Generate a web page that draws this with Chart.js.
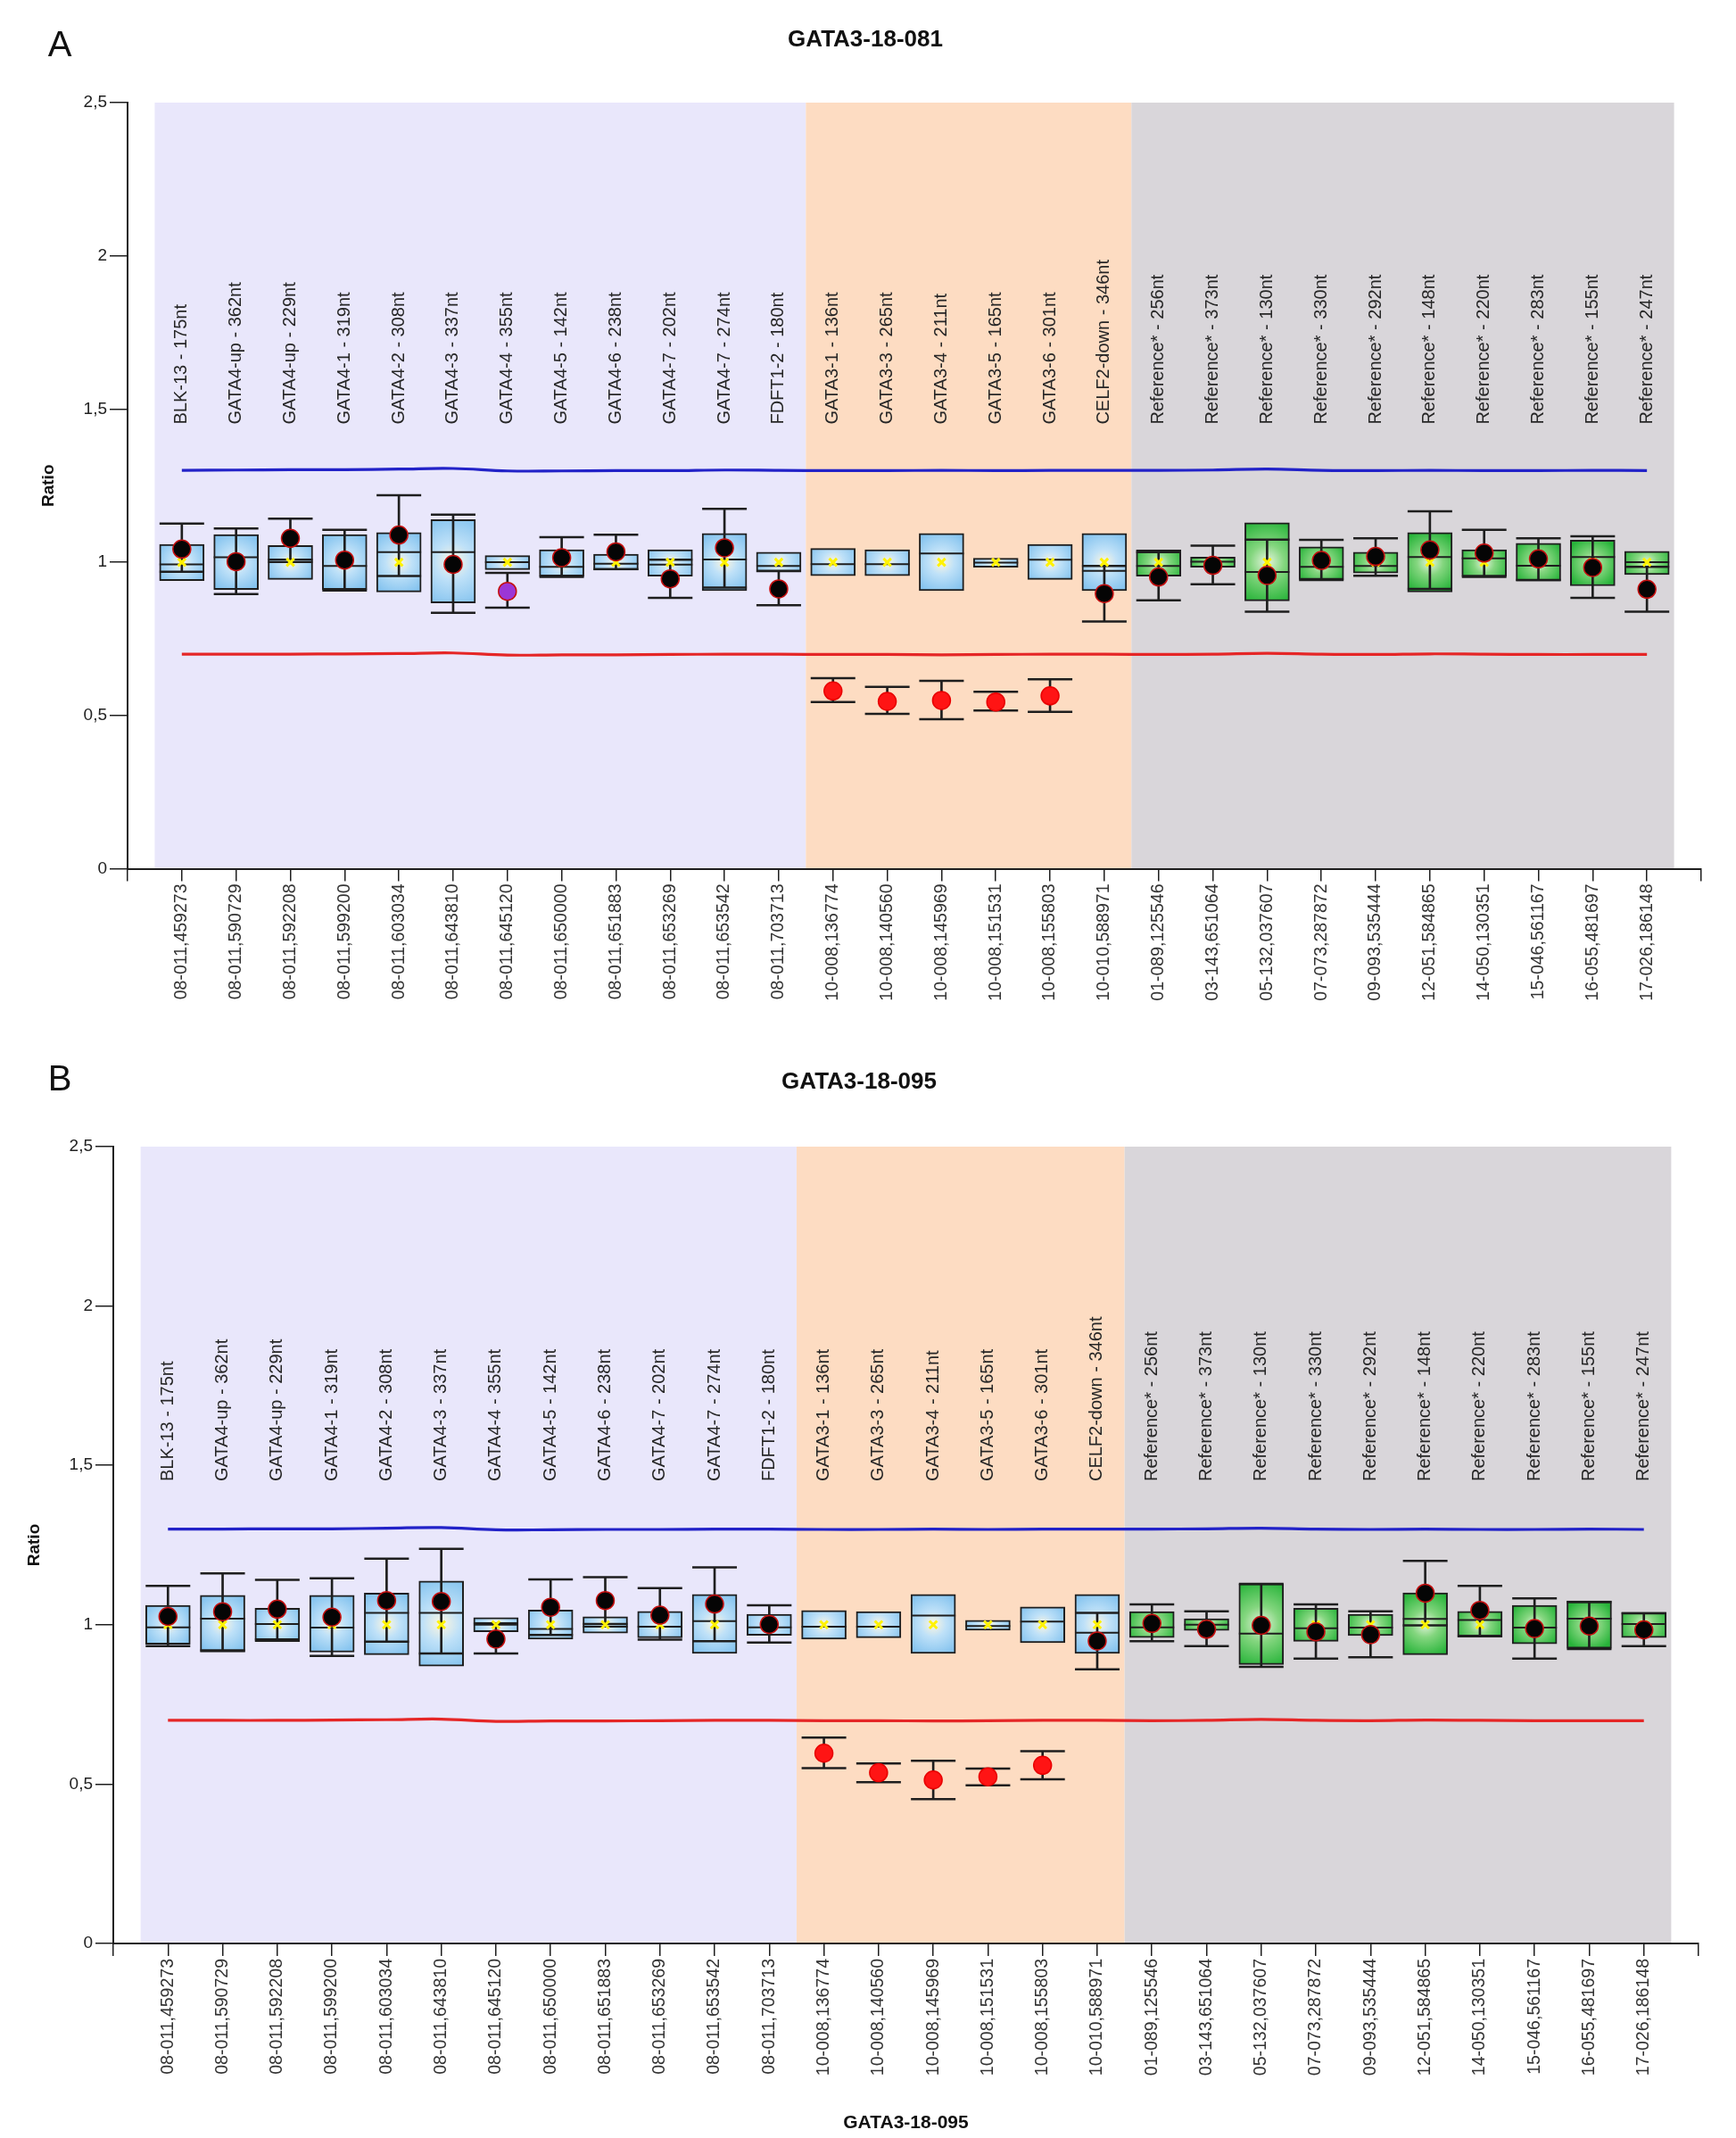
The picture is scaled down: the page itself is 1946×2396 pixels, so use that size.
<!DOCTYPE html>
<html>
<head>
<meta charset="utf-8">
<title>GATA3-18-081 / GATA3-18-095</title>
<script src="https://cdn.jsdelivr.net/npm/chart.js@4.4.0/dist/chart.umd.min.js"></script>
<style>
  html, body { margin: 0; padding: 0; background: #fff; }
  .panel { position: absolute; left: 0; width: 1946px; }
  #panelA { top: 0; height: 1140px; }
  #panelB { top: 1140px; height: 1256px; }
</style>
</head>
<body>
<div class="panel" id="panelA"><canvas id="chartA" width="1946" height="1140"></canvas></div>
<div class="panel" id="panelB"><canvas id="chartB" width="1946" height="1256"></canvas></div>
<script>
// ---- categories ----
const probeLabels = [
  'BLK-13 - 175nt', 'GATA4-up - 362nt', 'GATA4-up - 229nt', 'GATA4-1 - 319nt', 'GATA4-2 - 308nt',
  'GATA4-3 - 337nt', 'GATA4-4 - 355nt', 'GATA4-5 - 142nt', 'GATA4-6 - 238nt', 'GATA4-7 - 202nt',
  'GATA4-7 - 274nt', 'FDFT1-2 - 180nt',
  'GATA3-1 - 136nt', 'GATA3-3 - 265nt', 'GATA3-4 - 211nt', 'GATA3-5 - 165nt', 'GATA3-6 - 301nt',
  'CELF2-down - 346nt',
  'Reference* - 256nt', 'Reference* - 373nt', 'Reference* - 130nt', 'Reference* - 330nt',
  'Reference* - 292nt', 'Reference* - 148nt', 'Reference* - 220nt', 'Reference* - 283nt',
  'Reference* - 155nt', 'Reference* - 247nt'
];
const positionLabels = [
  '08-011,459273', '08-011,590729', '08-011,592208', '08-011,599200', '08-011,603034',
  '08-011,643810', '08-011,645120', '08-011,650000', '08-011,651883', '08-011,653269',
  '08-011,653542', '08-011,703713',
  '10-008,136774', '10-008,140560', '10-008,145969', '10-008,151531', '10-008,155803',
  '10-010,588971',
  '01-089,125546', '03-143,651064', '05-132,037607', '07-073,287872', '09-093,535444',
  '12-051,584865', '14-050,130351', '15-046,561167', '16-055,481697', '17-026,186148'
];
// probe groups: test region, target (GATA3) region, reference probes
const groupStart = [0, 12, 18];
const groupEnd = [11, 17, 27];

const yTickValues = [0, 0.5, 1, 1.5, 2, 2.5];
const yTickLabels = ['0', '0,5', '1', '1,5', '2', '2,5'];

// ---- panel A: GATA3-18-081 ----
const boxLoA  = [0.940,0.911,0.944,0.911,0.903,0.867,0.976,0.955,0.974,0.955,0.907,0.968, 0.956,0.956,0.907,0.984,0.944,0.907, 0.955,0.984,0.874,0.944,0.965,0.903,0.954,0.939,0.923,0.960];
const boxHiA  = [1.058,1.090,1.055,1.090,1.097,1.139,1.022,1.041,1.026,1.041,1.094,1.033, 1.045,1.041,1.094,1.013,1.058,1.094, 1.040,1.017,1.129,1.050,1.033,1.097,1.041,1.062,1.072,1.036];
const medianA = [0.993,1.016,1.000,0.988,1.033,1.033,1.000,0.985,0.995,0.992,1.009,0.988, 0.994,0.994,1.029,0.999,1.008,0.972, 0.988,1.002,0.968,0.985,0.988,1.017,1.013,0.989,1.017,1.000];
const meanA   = [1,1,1,1,1,1,1,1,1,1,1,1, 1,1,1,1,1,1, 1,1,1,1,1,1,1,1,1,1];
const sampleA = [1.043,1.002,1.078,1.007,1.089,0.993,0.905,1.015,1.034,0.946,1.047,0.913, 0.580,0.546,0.549,0.544,0.564,0.898, 0.952,0.990,0.957,1.006,1.019,1.040,1.030,1.011,0.983,0.912];
const errLoA  = [0.969,0.896,1.008,0.908,0.955,0.835,0.852,0.952,0.978,0.884,0.917,0.860, 0.544,0.505,0.488,0.516,0.512,0.807, 0.876,0.928,0.839,0.942,0.956,0.913,0.952,0.942,0.884,0.839];
const errHiA  = [1.126,1.110,1.142,1.106,1.219,1.155,0.965,1.082,1.090,1.008,1.174,0.972, 0.622,0.593,0.613,0.577,0.618,0.988, 1.033,1.054,1.074,1.073,1.078,1.166,1.106,1.078,1.085,0.985];
const upperA  = [1.300,1.301,1.302,1.302,1.304,1.306,1.298,1.298,1.299,1.299,1.301,1.300, 1.299,1.299,1.300,1.299,1.300,1.300, 1.300,1.301,1.304,1.300,1.299,1.300,1.299,1.299,1.300,1.299];
const lowerA  = [0.700,0.700,0.700,0.701,0.702,0.704,0.697,0.698,0.698,0.699,0.700,0.700, 0.699,0.699,0.698,0.699,0.700,0.700, 0.699,0.700,0.703,0.700,0.699,0.701,0.700,0.699,0.699,0.699];
const flaggedA = [6];

// ---- panel B: GATA3-18-095 ----
const boxLoB  = [0.939,0.914,0.947,0.914,0.906,0.870,0.978,0.955,0.974,0.959,0.910,0.967, 0.955,0.959,0.910,0.983,0.944,0.910, 0.960,0.982,0.875,0.948,0.966,0.906,0.961,0.940,0.926,0.960];
const boxHiB  = [1.061,1.092,1.052,1.092,1.099,1.137,1.022,1.046,1.025,1.042,1.095,1.033, 1.045,1.041,1.095,1.014,1.056,1.095, 1.041,1.019,1.129,1.052,1.033,1.100,1.042,1.061,1.075,1.039];
const medianB = [0.992,1.019,1.002,0.991,1.037,1.037,1.005,0.987,0.994,0.994,1.011,0.992, 0.994,0.994,1.029,0.996,1.010,0.975, 0.992,1.000,0.972,0.989,0.991,1.018,1.015,0.991,1.019,1.002];
const meanB   = [1,1,1,1,1,1,1,1,1,1,1,1, 1,1,1,1,1,1, 1,1,1,1,1,1,1,1,1,1];
const sampleB = [1.026,1.041,1.049,1.024,1.076,1.073,0.955,1.055,1.076,1.030,1.065,1.001, 0.597,0.536,0.513,0.523,0.559,0.949, 1.004,0.986,0.998,0.978,0.969,1.099,1.045,0.988,0.996,0.984];
const errLoB  = [0.933,0.920,0.954,0.902,0.947,0.910,0.910,0.968,1.002,0.953,0.948,0.944, 0.550,0.506,0.453,0.496,0.515,0.860, 0.948,0.933,0.868,0.894,0.898,0.998,0.965,0.894,0.924,0.933];
const errHiB  = [1.122,1.161,1.141,1.146,1.207,1.238,1.001,1.142,1.149,1.115,1.180,1.061, 0.646,0.565,0.573,0.549,0.603,1.037, 1.064,1.042,1.128,1.064,1.042,1.200,1.122,1.083,1.071,1.036];
const upperB  = [1.300,1.300,1.301,1.301,1.303,1.305,1.298,1.298,1.299,1.299,1.300,1.300, 1.299,1.299,1.300,1.299,1.300,1.300, 1.300,1.301,1.303,1.300,1.299,1.300,1.299,1.299,1.300,1.299];
const lowerB  = [0.700,0.700,0.700,0.701,0.702,0.704,0.697,0.698,0.698,0.699,0.700,0.700, 0.699,0.699,0.698,0.699,0.700,0.700, 0.699,0.700,0.703,0.700,0.699,0.701,0.700,0.699,0.699,0.699];
const flaggedB = [];

const FONT = '"Liberation Sans", Arial, Helvetica, sans-serif';
const INK = '#1e1e1e';

// points helper: index -> {x, y}
const pts = arr => arr.map((v, i) => ({ x: i, y: v }));
const ranges = (lo, hi) => lo.map((v, i) => ({ x: i, y: [v, hi[i]] }));

// gradient fill for the reference boxes (blue for test probes, green for reference probes)
function boxFill(c) {
  const raw = c.raw;
  const chart = c.chart;
  const green = raw && raw.x >= groupStart[2];
  const flat = green ? '#5cc862' : '#a9d6f4';
  if (!raw || !chart.scales || !chart.scales.x || !chart.scales.y) return flat;
  const xs = chart.scales.x, ys = chart.scales.y;
  const cx = xs.getPixelForValue(raw.x);
  const top = ys.getPixelForValue(raw.y[1]);
  const bot = ys.getPixelForValue(raw.y[0]);
  if (![cx, top, bot].every(Number.isFinite)) return flat;
  const cy = (top + bot) / 2;
  const r = Math.max(27, Math.abs(bot - top) / 2) * 1.1;
  const g = chart.ctx.createRadialGradient(cx, cy, 0, cx, cy, r);
  if (green) {
    g.addColorStop(0, '#e6f5df');
    g.addColorStop(0.4, '#84d67f');
    g.addColorStop(1, '#28b43a');
  } else {
    g.addColorStop(0, '#fdf6e0');
    g.addColorStop(0.4, '#bfe1f8');
    g.addColorStop(1, '#86c4ef');
  }
  return g;
}

const panelDecor = {
  id: 'panelDecor',
  beforeDraw(chart, args, o) {
    const { ctx, chartArea, scales: { x } } = chart;
    ctx.save();
    o.bands.forEach((col, g) => {
      const x0 = x.getPixelForValue(groupStart[g] - 0.5);
      const x1 = x.getPixelForValue(groupEnd[g] + 0.5);
      ctx.fillStyle = col;
      ctx.fillRect(x0, chartArea.top, x1 - x0, chartArea.bottom - chartArea.top);
    });
    ctx.restore();
  },
  afterDatasetsDraw(chart, args, o) {
    const { ctx, scales: { x, y } } = chart;
    ctx.save();
    // probe names standing upright above the data
    ctx.font = '20px ' + FONT;
    ctx.fillStyle = '#262626';
    ctx.textAlign = 'left';
    ctx.textBaseline = 'middle';
    const base = y.getPixelForValue(o.labelBase);
    probeLabels.forEach((t, i) => {
      ctx.save();
      ctx.translate(x.getPixelForValue(i), base);
      ctx.rotate(-Math.PI / 2);
      ctx.fillText(t, 0, 0);
      ctx.restore();
    });
    // panel title and letter
    ctx.fillStyle = '#111';
    ctx.textAlign = 'center';
    ctx.textBaseline = 'middle';
    ctx.font = 'bold 26px ' + FONT;
    ctx.fillText(o.title, o.titleX, o.titleY);
    ctx.font = '40px ' + FONT;
    ctx.fillText(o.letter, o.letterX, o.letterY);
    ctx.restore();
  }
};

function makePanel(canvasId, d, look) {
  const n = positionLabels.length;
  const tickPos = [-1, ...positionLabels.map((_, i) => i), n];
  const isLow = c => c.raw && c.raw.y < d.lower[c.dataIndex];
  const dotColor = c => {
    if (isLow(c)) return '#ff1414';
    if (d.flagged.includes(c.dataIndex)) return '#9b36d6';
    return '#050505';
  };
  const dotEdge = c => (isLow(c) ? '#e80000' : '#c41010');

  return new Chart(document.getElementById(canvasId), {
    type: 'bar',
    data: {
      datasets: [
        { type: 'line', data: pts(d.upper), borderColor: '#2222c8', borderWidth: 3.2, pointRadius: 0, tension: 0.4, order: 10 },
        { type: 'line', data: pts(d.lower), borderColor: '#e52626', borderWidth: 3.2, pointRadius: 0, tension: 0.4, order: 10 },
        { type: 'bar', data: ranges(d.boxLo, d.boxHi), backgroundColor: boxFill, borderColor: INK, borderWidth: 2,
          borderSkipped: false, barThickness: 50, grouped: false, order: 9 },
        { type: 'scatter', data: pts(d.median), pointStyle: 'line', pointRadius: 25, pointBorderWidth: 2,
          pointBorderColor: INK, order: 8 },
        { type: 'bar', data: ranges(d.errLo, d.errHi), backgroundColor: INK, borderWidth: 0,
          barThickness: 2, grouped: false, order: 7 },
        { type: 'scatter', data: pts(d.errLo), pointStyle: 'line', pointRadius: 25, pointBorderWidth: 2.5,
          pointBorderColor: INK, order: 6 },
        { type: 'scatter', data: pts(d.errHi), pointStyle: 'line', pointRadius: 25, pointBorderWidth: 2.5,
          pointBorderColor: INK, order: 6 },
        { type: 'scatter', data: pts(d.mean), pointStyle: 'crossRot', pointRadius: 6, pointBorderWidth: 3,
          pointBorderColor: '#fff200', order: 5 },
        { type: 'scatter', data: pts(d.sample), pointStyle: 'circle', pointRadius: 10,
          pointBackgroundColor: dotColor, pointBorderColor: dotEdge, pointBorderWidth: 1.5, order: 4 }
      ]
    },
    options: {
      responsive: false,
      animation: false,
      devicePixelRatio: 1,
      layout: { padding: look.padding },
      plugins: {
        legend: { display: false },
        tooltip: { enabled: false },
        panelDecor: look.decor
      },
      scales: {
        x: {
          type: 'linear', min: -1, max: n, offset: false,
          afterBuildTicks: s => { s.ticks = tickPos.map(v => ({ value: v })); },
          afterFit: s => { s.height = look.xHeight; },
          grid: { drawOnChartArea: false, drawTicks: true, tickLength: 14, color: INK, lineWidth: 1.5, offset: false },
          border: { display: true, color: INK, width: 2 },
          ticks: {
            autoSkip: false, minRotation: 90, maxRotation: 90, padding: 3, color: '#333',
            font: { family: FONT, size: 19.5 },
            callback: v => positionLabels[v] || ''
          },
          title: look.xTitle
        },
        y: {
          min: 0, max: 2.5,
          afterBuildTicks: s => { s.ticks = yTickValues.map(v => ({ value: v })); },
          afterFit: s => { s.width = look.yWidth; },
          grid: { drawOnChartArea: false, drawTicks: true, tickLength: 20, color: INK, lineWidth: 1.5 },
          border: { display: true, color: INK, width: 2 },
          ticks: {
            padding: 3, color: '#222', font: { family: FONT, size: 19 },
            callback: v => yTickLabels[yTickValues.indexOf(v)]
          },
          title: {
            display: true, text: 'Ratio', color: '#111',
            font: { family: FONT, size: 19, weight: 'bold' },
            padding: { top: look.ratioPad, bottom: 0 }
          }
        }
      }
    },
    plugins: [panelDecor]
  });
}

const bands = ['#e9e7fb', '#fddcc2', '#d9d6da'];

makePanel('chartA', {
  boxLo: boxLoA, boxHi: boxHiA, median: medianA, mean: meanA, sample: sampleA,
  errLo: errLoA, errHi: errHiA, upper: upperA, lower: lowerA, flagged: flaggedA
}, {
  padding: { top: 115, right: 39, bottom: 16.5, left: 0 },
  xHeight: 150, yWidth: 143, ratioPad: 43.6,
  xTitle: { display: false },
  decor: { bands, labelBase: 1.45, title: 'GATA3-18-081', titleX: 970, titleY: 45,
           letter: 'A', letterX: 67, letterY: 52 }
});

makePanel('chartB', {
  boxLo: boxLoB, boxHi: boxHiB, median: medianB, mean: meanB, sample: sampleB,
  errLo: errLoB, errHi: errHiB, upper: upperB, lower: lowerB, flagged: flaggedB
}, {
  padding: { top: 145, right: 42, bottom: 0, left: 0 },
  xHeight: 218, yWidth: 127, ratioPad: 27.6,
  xTitle: { display: true, text: 'GATA3-18-095', color: '#111',
            font: { family: FONT, size: 21, weight: 'bold' }, padding: { top: 0, bottom: 4.4 } },
  decor: { bands, labelBase: 1.45, title: 'GATA3-18-095', titleX: 963, titleY: 73,
           letter: 'B', letterX: 67, letterY: 71 }
});
</script>
</body>
</html>
